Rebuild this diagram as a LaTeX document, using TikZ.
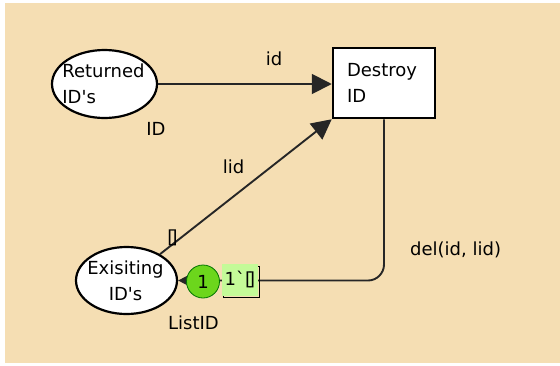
\documentclass[tikz,border=0pt]{standalone}
\usepackage{fontspec}
\setmainfont{DejaVu Sans}
\newfontfamily\plainfont{DejaVu Sans}
\usetikzlibrary{arrows.meta,shapes.geometric}
\definecolor{bgwheat}{RGB}{245,222,179}
\definecolor{tokgreen}{RGB}{108,214,28}
\definecolor{mkgreen}{RGB}{196,250,152}
\begin{document}
\begin{tikzpicture}[x=1pt,y=-1pt,
  lbl/.style={font=\plainfont\fontsize{18}{26.5}\selectfont, inner sep=0pt},
  placenode/.style={ellipse, draw=black, line width=2.2pt, fill=white, inner sep=0pt},
  conn/.style={draw=black!85, line width=1.9pt},
  bigtip/.style={-{Triangle[length=20pt,width=20pt]}}
]
\useasboundingbox (0,0) rectangle (560,365);
\fill[white] (0,0) rectangle (560,365);
\fill[bgwheat] (5,3) rectangle (560,363);

% places and transition
\node[placenode, minimum width=105pt, minimum height=68pt] (ret) at (104.5,84) {};
\node[lbl, align=left] (rettxt) at (103.5,84) {Returned\\ID's};
\node[placenode, minimum width=101pt, minimum height=67pt] (ex) at (126.5,280.5) {};
\node[lbl, align=center] (extxt) at (125.5,281) {Exisiting\\ID's};
\node[draw=black, line width=2.5pt, fill=white, text width=74pt, inner xsep=14pt,
      minimum height=70pt, align=left, font=\plainfont\fontsize{18}{26.5}\selectfont] (dest) at (384,83) {Destroy\\ID};

% arcs
\draw[conn, bigtip] (ret.east) -- (ret.east -| dest.west);
\draw[conn, bigtip] (ex) -- (dest.south west);
\draw[conn, -{Triangle[length=12pt,width=12pt]}, rounded corners=16pt] (dest.south) |- (ex.east);

% marking
\node[circle, fill=tokgreen, draw=black!55!green, line width=0.8pt, minimum size=33pt,
      inner sep=0pt, font=\plainfont\fontsize{18}{26.5}\selectfont] (tok) at (203,281.5) {1};
\draw[line width=1pt] (223,266) rectangle (259,297.5);
\fill[mkgreen] (221.5,263.5) rectangle (257.5,295.5);
\node[lbl, anchor=base west] (mk) at (224.5,285) {1`[\kern-.22em]};

% labels
\node[lbl, anchor=base] (idlbl) at (274,65) {id};
\node[lbl, anchor=base] (IDlbl) at (156,135) {ID};
\node[lbl, anchor=base] (lidlbl) at (233.5,173) {lid};
\node[lbl] (init) at (172.5,237.5) {[\kern-.22em]};
\node[lbl, anchor=base west] (dellbl) at (410,255) {del(id, lid)};
\node[lbl, anchor=base west] (listlbl) at (168,329) {ListID};
\end{tikzpicture}
\end{document}
